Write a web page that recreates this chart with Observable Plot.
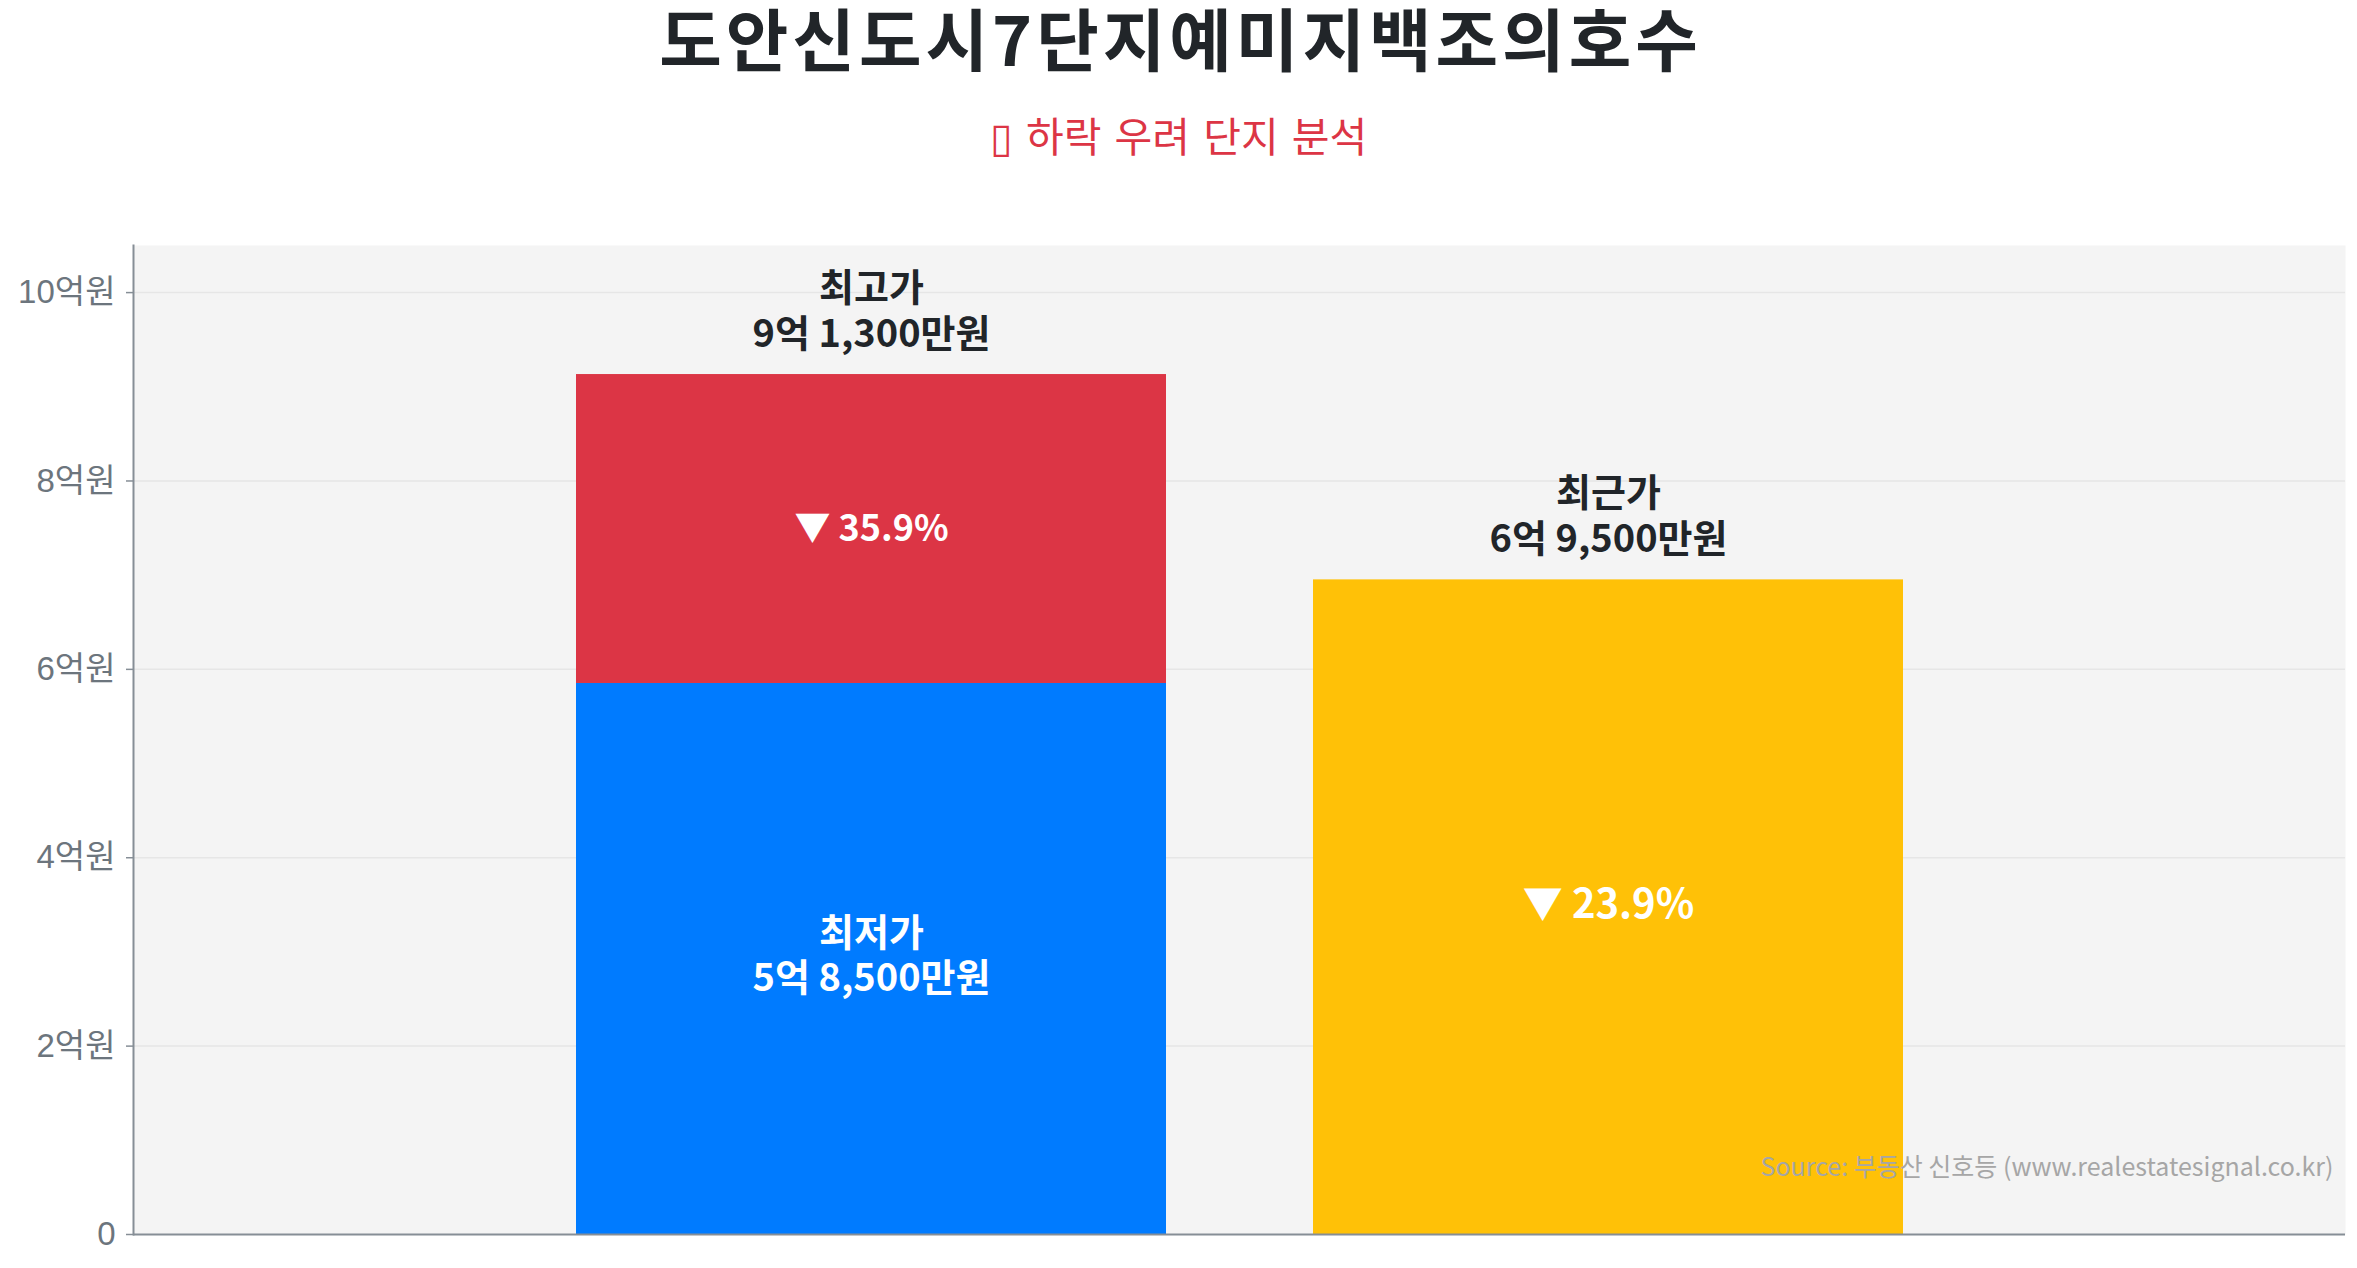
<!DOCTYPE html>
<html>
<head>
<meta charset="utf-8">
<script src="https://cdn.jsdelivr.net/npm/d3@7"></script>
<script src="https://cdn.jsdelivr.net/npm/@observablehq/plot@0.6"></script>
<style>
  html, body { margin: 0; padding: 0; background: #ffffff; overflow: hidden; width: 2357px; height: 1268px; }
  #header { position: relative; width: 2357px; height: 200px; }
  #title { position: absolute; left: 0; width: 2357px; top: 3px; text-align: center;
    font-family: "Noto Sans CJK KR", "Noto Sans", sans-serif; font-weight: 700; font-size: 68px; line-height: 1; color: #212529; letter-spacing: 4px; text-indent: 4px; }
  #subtitle { position: absolute; left: 0; width: 2357px; top: 114px; text-align: center;
    font-family: "Noto Sans CJK KR", "Noto Sans", sans-serif; font-weight: 400; font-size: 41px; line-height: 1; color: #dc3545; word-spacing: 4px; }
  #chart svg { display: block; }
</style>
</head>
<body>
<div id="header">
  <div id="title">도안신도시7단지예미지백조의호수</div>
  <div id="subtitle">▯ 하락 우려 단지 분석</div>
</div>
<div id="chart"></div>
<script>
// ---- data (억원) ----
const groups = ["최고가·최저가", "최근가"];
const priceNames = ["최고가", "최저가", "최근가"];
const priceValues = [9.13, 5.85, 6.95];
const yTicks = [0, 2, 4, 6, 8, 10];
const sourceText = "Source: 부동산 신호등 (www.realestatesignal.co.kr)";

const [high, low, recent] = priceValues;

function fmtPrice(v) {
  const eok = Math.floor(v);
  const man = Math.round((v - eok) * 10000);
  return `${eok}억 ${d3.format(",")(man)}만원`;
}
function fmtDrop(from, to) {
  return `▼ ${((from - to) / from * 100).toFixed(1)}%`;
}

// bar segments
const segments = [
  {group: groups[0], kind: "최저가", y1: 0, y2: low},
  {group: groups[0], kind: "하락폭", y1: low, y2: high},
  {group: groups[1], kind: "최근가", y1: 0, y2: recent}
];
const topLabels = [
  {group: groups[0], y: high, text: `${priceNames[0]}\n${fmtPrice(high)}`},
  {group: groups[1], y: recent, text: `${priceNames[2]}\n${fmtPrice(recent)}`}
];
const lowLabel = [
  {group: groups[0], y: low / 2, text: `${priceNames[1]}\n${fmtPrice(low)}`}
];
const dropHighLow = [
  {group: groups[0], y: (low + high) / 2, text: fmtDrop(high, low)}
];
const dropHighRecent = [
  {group: groups[1], y: recent / 2, text: fmtDrop(high, recent)}
];

const W = 2357, H = 1068;
const mL = 133, mR = 12, mT = 45, mB = 34;
const unit = (W - mR - mL) / 3;

const font = "'Noto Sans CJK KR', 'Noto Sans', sans-serif";

const chart = Plot.plot({
  width: W,
  height: H,
  marginLeft: mL,
  marginRight: mR,
  marginTop: mT,
  marginBottom: mB,
  style: {fontFamily: font, background: "#ffffff"},
  x: {type: "band", domain: groups, range: [mL + 0.4 * unit, mL + 2.6 * unit], padding: 0.2, axis: null},
  y: {domain: [0, 10.5], axis: null},
  color: {domain: ["최저가", "하락폭", "최근가"], range: ["#007bff", "#dc3545", "#ffc107"]},
  marks: [
    Plot.frame({fill: "#f4f4f4", stroke: "none"}),
    Plot.gridY(yTicks.filter(d => d > 0), {stroke: "#e6e6e6", strokeOpacity: 1, strokeWidth: 1.5}),
    Plot.barY(segments, {x: "group", y1: "y1", y2: "y2", fill: "kind", inset: 0}),
    Plot.axisY({
      ticks: yTicks,
      tickFormat: d => d === 0 ? "0" : `${d}억원`,
      tickSize: 7,
      tickPadding: 11,
      stroke: "#868e96",
      strokeWidth: 1.5,
      fill: "#6c757d",
      fontSize: 33,
      fontFamily: "'Liberation Sans', 'Noto Sans CJK KR', sans-serif",
      label: null
    }),
    Plot.frame({anchor: "left", stroke: "#868e96", strokeWidth: 2}),
    Plot.ruleY([0], {stroke: "#868e96", strokeWidth: 2}),
    Plot.text(topLabels, {
      x: "group", y: "y", text: "text",
      lineAnchor: "bottom", dy: -28, lineHeight: 1.2,
      fontSize: 38, fontWeight: 700, fill: "#212529"
    }),
    Plot.text(lowLabel, {
      x: "group", y: "y", text: "text",
      lineAnchor: "middle", dy: -5, lineHeight: 1.2,
      fontSize: 38, fontWeight: 700, fill: "#ffffff"
    }),
    Plot.text(dropHighLow, {
      x: "group", y: "y", text: "text",
      lineAnchor: "middle", dx: 0,
      fontSize: 36, fontWeight: 700, fill: "#ffffff"
    }),
    Plot.text(dropHighRecent, {
      x: "group", y: "y", text: "text",
      lineAnchor: "middle", dx: 0, dy: -2,
      fontSize: 40, fontWeight: 700, fill: "#ffffff"
    }),
    Plot.text([sourceText], {
      frameAnchor: "bottom-right", dx: -12, dy: -59,
      fontSize: 25, fill: "#a6a6a6"
    })
  ]
});

document.getElementById("chart").appendChild(chart);
</script>
</body>
</html>
